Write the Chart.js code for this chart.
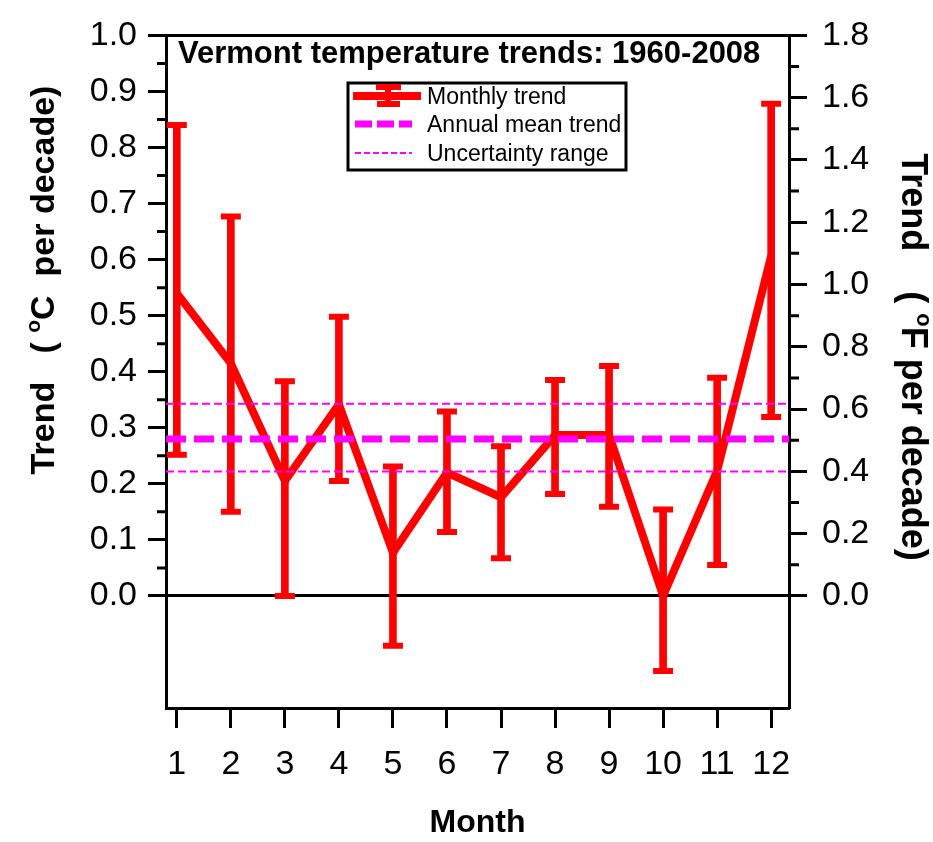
<!DOCTYPE html>
<html>
<head>
<meta charset="utf-8">
<script src="https://cdn.jsdelivr.net/npm/chart.js@4.4.0/dist/chart.umd.min.js"></script>
<style>
  html, body { margin: 0; padding: 0; background: #fff; }
  #wrap { width: 933px; height: 842px; }
</style>
</head>
<body>
<div id="wrap"><canvas id="myChart"></canvas></div>
<script>
// data (degC per decade)
const months = [1, 2, 3, 4, 5, 6, 7, 8, 9, 10, 11, 12];
const monthlyTrend = [0.54, 0.415, 0.205, 0.342, 0.077, 0.22, 0.176, 0.287, 0.287, 0.0, 0.223, 0.607];
const trendUpper = [0.84, 0.677, 0.383, 0.498, 0.231, 0.329, 0.267, 0.385, 0.41, 0.154, 0.389, 0.878];
const trendLower = [0.252, 0.15, 0.0, 0.205, -0.089, 0.114, 0.067, 0.182, 0.159, -0.134, 0.055, 0.319];
const annualMean = 0.28;
const uncertaintyHigh = 0.343;
const uncertaintyLow = 0.222;

// axes
const leftTicks = [0.0, 0.1, 0.2, 0.3, 0.4, 0.5, 0.6, 0.7, 0.8, 0.9, 1.0];
const leftMinorTicks = [0.05, 0.15, 0.25, 0.35, 0.45, 0.55, 0.65, 0.75, 0.85, 0.95];
const rightTicks = [0.0, 0.2, 0.4, 0.6, 0.8, 1.0, 1.2, 1.4, 1.6, 1.8];
const rightMinorTicks = [0.1, 0.3, 0.5, 0.7, 0.9, 1.1, 1.3, 1.5, 1.7];
const xMin = 0.8, xMax = 12.33;
const yMin = -0.2, yMax = 1.0;
const cToF = 1.8;

const chartTitle = "Vermont temperature trends: 1960-2008";
const legendLabels = ["Monthly trend", "Annual mean trend", "Uncertainty range"];

const FONT = "'Liberation Sans', Arial, sans-serif";
const RED = "#ff0000";
const MAGENTA = "#ff00ff";

Chart.defaults.font.family = FONT;
Chart.defaults.color = "#000";

function flatLine(v) {
  return [{ x: xMin, y: v }, { x: xMax, y: v }];
}

function drawAxisTitle(ctx, parts, bx, cy, angle, size) {
  ctx.save();
  ctx.translate(bx, cy);
  ctx.rotate(angle);
  const big = "bold " + size + "px " + FONT;
  const small = "bold " + Math.round(size * 0.62) + "px " + FONT;
  let total = 0;
  parts.forEach(p => {
    ctx.font = p.sup ? small : big;
    p.w = ctx.measureText(p.text).width;
    total += p.w;
  });
  let x = -total / 2;
  ctx.textAlign = "left";
  ctx.textBaseline = "alphabetic";
  ctx.fillStyle = "#000";
  parts.forEach(p => {
    ctx.font = p.sup ? small : big;
    ctx.fillText(p.text, x, p.sup ? -size * 0.42 : 0);
    x += p.w;
  });
  ctx.restore();
}

const extras = {
  id: "extras",
  afterDraw(chart) {
    const { ctx, chartArea, scales } = chart;
    ctx.save();

    // minor ticks
    ctx.strokeStyle = "#000";
    ctx.lineWidth = 3;
    ctx.beginPath();
    leftMinorTicks.forEach(v => {
      const y = scales.y.getPixelForValue(v);
      ctx.moveTo(chartArea.left - 9, y);
      ctx.lineTo(chartArea.left, y);
    });
    rightMinorTicks.forEach(v => {
      const y = scales.y2.getPixelForValue(v);
      ctx.moveTo(chartArea.right, y);
      ctx.lineTo(chartArea.right + 10, y);
    });
    ctx.stroke();

    // title inside the plot
    ctx.fillStyle = "#000";
    ctx.font = "bold 31px " + FONT;
    ctx.textAlign = "left";
    ctx.textBaseline = "alphabetic";
    ctx.fillText(chartTitle, 178, 63);

    // legend box
    ctx.lineWidth = 3;
    ctx.strokeRect(348, 83, 278, 87);

    // monthly trend symbol
    ctx.strokeStyle = RED;
    ctx.lineWidth = 8;
    ctx.beginPath();
    ctx.moveTo(353, 96); ctx.lineTo(421, 96);
    ctx.stroke();
    ctx.lineWidth = 6;
    ctx.beginPath();
    ctx.moveTo(388, 86); ctx.lineTo(388, 106);
    ctx.moveTo(376, 87); ctx.lineTo(401, 87);
    ctx.moveTo(377, 104); ctx.lineTo(400, 104);
    ctx.stroke();

    // annual mean symbol
    ctx.strokeStyle = MAGENTA;
    ctx.lineWidth = 7;
    ctx.setLineDash([17, 5]);
    ctx.beginPath();
    ctx.moveTo(355, 124); ctx.lineTo(412, 124);
    ctx.stroke();

    // uncertainty symbol
    ctx.lineWidth = 2;
    ctx.setLineDash([6, 3]);
    ctx.beginPath();
    ctx.moveTo(355, 153); ctx.lineTo(412, 153);
    ctx.stroke();
    ctx.setLineDash([]);

    ctx.fillStyle = "#000";
    ctx.font = "23px " + FONT;
    ctx.textBaseline = "middle";
    ctx.fillText(legendLabels[0], 427, 98);
    ctx.fillText(legendLabels[1], 427, 126);
    ctx.fillText(legendLabels[2], 427, 155);
    ctx.restore();

    // axis titles
    drawAxisTitle(ctx, [{ text: "Trend   ( " }, { text: "o", sup: true }, { text: "C  per decade)" }],
      54, 280, -Math.PI / 2, 34);
    drawAxisTitle(ctx, [{ text: "Trend    ( " }, { text: "o", sup: true }, { text: "F per decade)" }],
      902, 357, Math.PI / 2, 36);
  }
};

const ctx = document.getElementById("myChart").getContext("2d");
const myChart = new Chart(ctx, {
  type: "line",
  data: {
    datasets: [
      {
        label: "Annual mean trend",
        data: flatLine(annualMean),
        borderColor: MAGENTA,
        borderWidth: 7,
        borderDash: [20, 8],
        pointRadius: 0,
      },
      {
        label: "Uncertainty high",
        data: flatLine(uncertaintyHigh),
        borderColor: MAGENTA,
        borderWidth: 2,
        borderDash: [8, 4],
        pointRadius: 0,
      },
      {
        label: "Uncertainty low",
        data: flatLine(uncertaintyLow),
        borderColor: MAGENTA,
        borderWidth: 2,
        borderDash: [8, 4],
        pointRadius: 0,
      },
      {
        label: "Upper caps",
        data: months.map((m, i) => ({ x: m, y: trendUpper[i] })),
        showLine: false,
        pointStyle: "line",
        pointRadius: 10,
        pointBorderWidth: 6,
        pointBorderColor: RED,
        borderColor: RED,
      },
      {
        label: "Lower caps",
        data: months.map((m, i) => ({ x: m, y: trendLower[i] })),
        showLine: false,
        pointStyle: "line",
        pointRadius: 10,
        pointBorderWidth: 6,
        pointBorderColor: RED,
        borderColor: RED,
      },
      {
        label: "Monthly trend",
        data: months.map((m, i) => ({ x: m, y: monthlyTrend[i] })),
        borderColor: RED,
        borderWidth: 8,
        pointRadius: 0,
        tension: 0,
      },
      {
        type: "bar",
        label: "Error bars",
        data: months.map((m, i) => ({ x: m, y: [trendLower[i], trendUpper[i]] })),
        backgroundColor: RED,
        borderWidth: 0,
        barThickness: 7,
      },
    ],
  },
  options: {
    responsive: true,
    maintainAspectRatio: false,
    animation: false,
    layout: { padding: { top: 24, left: 0, right: 0, bottom: 0 } },
    plugins: {
      legend: { display: false },
      tooltip: { enabled: false },
    },
    scales: {
      x: {
        type: "linear",
        position: "bottom",
        min: xMin,
        max: xMax,
        offset: false,
        afterBuildTicks: s => { s.ticks = months.map(v => ({ value: v })); },
        afterFit: s => { s.height = 134; },
        grid: { offset: false, drawOnChartArea: false, tickLength: 20, tickWidth: 3, tickColor: "#000" },
        border: { display: true, color: "#000", width: 3 },
        ticks: {
          font: { size: 34 },
          color: "#000",
          padding: 16,
          maxRotation: 0,
          autoSkip: false,
          callback: v => String(v),
        },
        title: {
          display: true,
          text: "Month",
          font: { size: 32, weight: "bold" },
          color: "#000",
          padding: { top: 0, bottom: 0 },
        },
      },
      xTop: {
        type: "linear",
        position: "top",
        min: xMin,
        max: xMax,
        ticks: { display: false },
        grid: { display: false, drawTicks: false },
        border: { display: true, color: "#000", width: 3 },
        afterFit: s => { s.height = 0; },
      },
      y: {
        type: "linear",
        position: "left",
        min: yMin,
        max: yMax,
        afterBuildTicks: s => { s.ticks = leftTicks.map(v => ({ value: v })); },
        afterFit: s => { s.width = 166; },
        grid: {
          drawOnChartArea: true,
          color: c => (c.tick && c.tick.value === 0 ? "#000" : "rgba(0,0,0,0)"),
          lineWidth: 3,
          tickLength: 18,
          tickWidth: 3,
          tickColor: "#000",
        },
        border: { display: true, color: "#000", width: 3 },
        ticks: {
          font: { size: 34 },
          color: "#000",
          padding: 11,
          autoSkip: false,
          callback: v => v.toFixed(1),
        },
      },
      y2: {
        type: "linear",
        position: "right",
        min: yMin * cToF,
        max: yMax * cToF,
        afterBuildTicks: s => { s.ticks = rightTicks.map(v => ({ value: v })); },
        afterFit: s => { s.width = 144; },
        grid: { drawOnChartArea: false, tickLength: 18, tickWidth: 3, tickColor: "#000" },
        border: { display: true, color: "#000", width: 3 },
        ticks: {
          font: { size: 34 },
          color: "#000",
          padding: 15,
          autoSkip: false,
          callback: v => v.toFixed(1),
        },
      },
    },
  },
  plugins: [extras],
});
</script>
</body>
</html>
